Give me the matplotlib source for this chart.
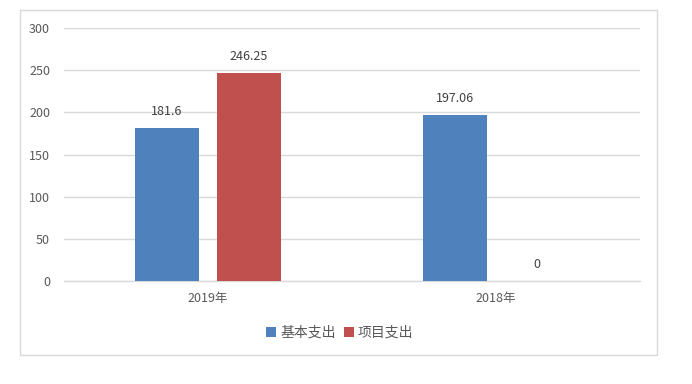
import matplotlib
matplotlib.use("Agg")
import matplotlib.pyplot as plt
from matplotlib.patches import Rectangle
import numpy as np

plt.rcParams['font.family'] = ['Noto Sans CJK SC', 'DejaVu Sans']

categories = ["2019年", "2018年"]
series_names = ["基本支出", "项目支出"]
basic = [181.6, 197.06]
project = [246.25, 0]
value_labels_basic = ["181.6", "197.06"]
value_labels_project = ["246.25", "0"]
colors = ["#4f81bd", "#c0504d"]
yticks = [0, 50, 100, 150, 200, 250, 300]

W, H = 692, 384
fig = plt.figure(figsize=(W/100, H/100), dpi=100)
fig.patch.set_facecolor("white")
fig.add_artist(Rectangle((20/W, 1-355/H), (657-20)/W, (355-10)/H,
                         transform=fig.transFigure, fill=False,
                         edgecolor="#d9d9d9", linewidth=1.0))

ax = fig.add_axes([64/W, 1-281/H, (640-64)/W, (281-28)/H])
x = np.arange(len(categories))
bw = 0.222
off = 0.142
b1 = ax.bar(x - off, basic, bw, color=colors[0], label=series_names[0], zorder=3)
b2 = ax.bar(x + off, project, bw, color=colors[1], label=series_names[1], zorder=3)

for rects, labs in ((b1, value_labels_basic), (b2, value_labels_project)):
    for r, lab in zip(rects, labs):
        ax.annotate(lab, (r.get_x() + r.get_width()/2, r.get_height()),
                    xytext=(0, 12), textcoords="offset points",
                    ha="center", va="center", fontsize=9, color="#404040")

ax.set_xlim(-0.5, 1.5)
ax.set_ylim(0, 300)
ax.set_yticks(yticks)
ax.set_xticks(x)
ax.set_xticklabels(categories)
ax.tick_params(axis="both", length=0, labelsize=9, colors="#595959")
ax.tick_params(axis="y", pad=10)
ax.tick_params(axis="x", pad=8)
ax.grid(axis="y", color="#d9d9d9", linewidth=1.0, zorder=0)
for s in ["top", "right", "left"]:
    ax.spines[s].set_visible(False)
ax.spines["bottom"].set_color("#d9d9d9")
ax.spines["bottom"].set_linewidth(1.0)

leg = fig.legend(handles=[b1, b2], labels=series_names, loc="center",
                 bbox_to_anchor=(340/W, 1-333/H), ncol=2, frameon=False,
                 fontsize=10, handlelength=0.7, handleheight=0.7,
                 handletextpad=0.3, columnspacing=0.6)
for t in leg.get_texts():
    t.set_color("#595959")

fig.savefig("out.png", dpi=100)
